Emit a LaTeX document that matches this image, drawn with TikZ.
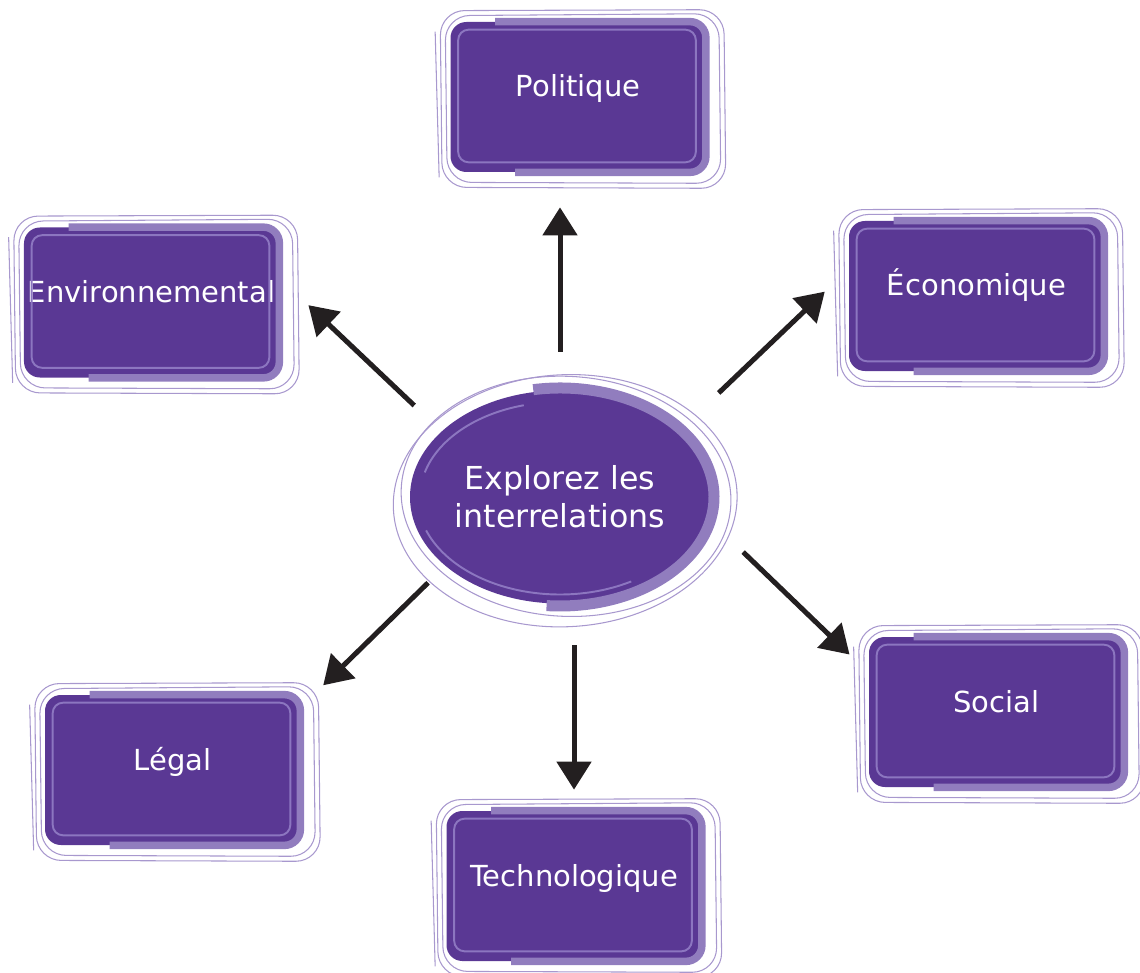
\documentclass[tikz,border=0pt]{standalone}
\usepackage{fontspec}
\setmainfont{DejaVu Sans}
\usepackage{xcolor}
\usetikzlibrary{arrows.meta, positioning, calc, shapes.geometric}
\definecolor{deeppurple}{RGB}{90,56,148}
\definecolor{bandpurple}{RGB}{145,125,190}
\definecolor{sketchpurple}{RGB}{168,152,206}
\definecolor{innerpurple}{RGB}{140,118,192}
\definecolor{inkblack}{RGB}{35,31,32}
\tikzset{
    topic/.style={fill=deeppurple, rounded corners=9pt, minimum width=5.1cm, minimum height=3.0cm, inner sep=0pt,
        text=white, font=\fontsize{16.5}{19}\selectfont, text height=3mm, text depth=3mm},
    hub/.style={ellipse, fill=deeppurple, minimum width=6.0cm, minimum height=4.26cm, inner sep=0pt,
        text=white, align=center, font=\fontsize{18}{21.6}\selectfont},
    band/.style={bandpurple, line width=0.15cm, rounded corners=9pt},
    sketch/.style={sketchpurple, line width=0.6pt, rounded corners=14pt},
    inner_line/.style={innerpurple, line width=1.1pt, rounded corners=6pt},
    link/.style={-{Triangle[length=0.56cm, width=0.68cm]}, line width=0.1cm, inkblack}
}

\begin{document}
\begin{tikzpicture}
    \useasboundingbox (0,0) rectangle (22.8,-19.46);
    % === CENTRE ===
    \node[hub] (ctr) at (11.2,-9.94) {Explorez les\\interrelations};
    % pencil rings round the centre
    \draw[sketchpurple, line width=0.6pt, rotate=3] ([shift={(0.1,-0.08)}]ctr.center) ellipse [x radius=3.44cm, y radius=2.52cm];
    \draw[sketchpurple, line width=0.6pt, rotate=-3] ([shift={(0.12,0.02)}]ctr.center) ellipse [x radius=3.3cm, y radius=2.4cm];
    % brush band and highlights
    \draw[band, line width=0.22cm] (ctr.center) ++(100:3.08cm and 2.18cm) arc[start angle=100, end angle=-95, x radius=3.08cm, y radius=2.18cm];
    \draw[inner_line] (ctr.center) ++(105:2.8cm and 1.9cm) arc[start angle=105, end angle=165, x radius=2.8cm, y radius=1.9cm];
    \draw[inner_line] (ctr.center) ++(200:2.85cm and 1.95cm) arc[start angle=200, end angle=300, x radius=2.85cm, y radius=1.95cm];
    %
    % === TOPICS ===
    \node[topic] (pol) at (11.56,-1.94) {Politique};
    \node[topic] (env) at (3.03,-6.05) {Environnemental};
    \node[topic] (eco) at (19.53,-5.92) {Économique};
    \node[topic] (soc) at (19.93,-14.24) {Social};
    \node[topic] (leg) at (3.45,-15.40) {Légal};
    \node[topic] (tec) at (11.48,-17.72) {Technologique};
    % sketchy frames
    \foreach \b in {pol,env,eco,soc,leg,tec}{
        \draw[sketch] ([shift={(-0.2,0.22)}]\b.north west) -- ([shift={(0.36,0.24)}]\b.north east)
            -- ([shift={(0.4,-0.32)}]\b.south east) -- ([shift={(-0.16,-0.3)}]\b.south west) -- cycle;
        \draw[sketch] ([shift={(-0.1,0.12)}]\b.north west) -- ([shift={(0.26,0.16)}]\b.north east)
            -- ([shift={(0.3,-0.22)}]\b.south east) -- ([shift={(-0.06,-0.2)}]\b.south west) -- cycle;
        \draw[sketch] ([shift={(-0.3,-0.2)}]\b.north west) -- ([shift={(-0.22,-0.1)}]\b.south west);
        \draw[band] ([xshift=0.9cm]\b.north west) -- (\b.north east) -- (\b.south east) -- ([xshift=1.3cm]\b.south west);
        \draw[inner_line] ([shift={(0.16,-0.16)}]\b.north west) rectangle ([shift={(-0.2,0.2)}]\b.south east);
    }
    %
    % === LINKS ===
    \draw[link, shorten <=0.77cm, shorten >=0.70cm] (ctr.north) -- (ctr.north |- pol.south);
    \draw[link, shorten <=0.75cm, shorten >=0.80cm] (ctr.151) -- (env.11);
    \draw[link, shorten <=1.11cm, shorten >=0.66cm] (ctr.29) -- (eco.168);
    \draw[link, shorten <=0.99cm, shorten >=0.53cm] (ctr.-8) -- (soc.163);
    \draw[link, shorten <=0.48cm, shorten >=0.64cm] (ctr.211) -- (leg.26);
    \draw[link, shorten <=0.83cm, shorten >=0.42cm] (tec.north |- ctr.south) -- (tec.north);
\end{tikzpicture}
\end{document}
